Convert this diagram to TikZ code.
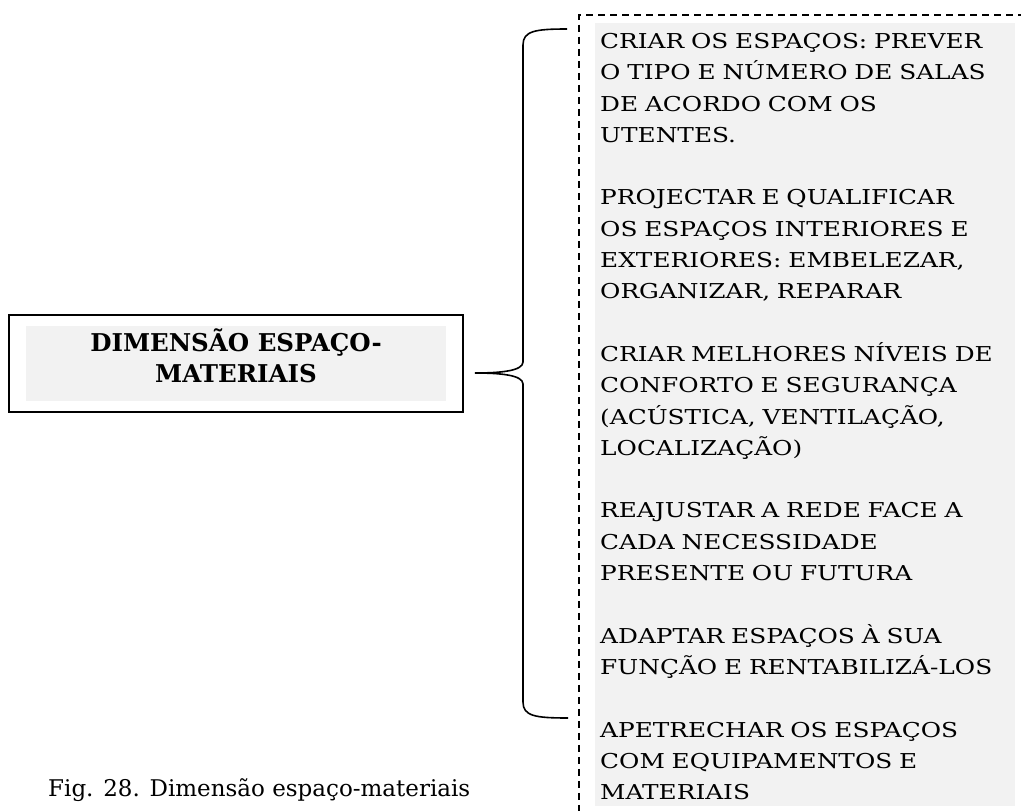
\documentclass[tikz,border=0pt]{standalone}
\usepackage{fontspec}
\setmainfont{DejaVu Serif}
\newfontfamily\wideserif{DejaVu Serif}[FakeStretch=1.21]
\usetikzlibrary{positioning}

\definecolor{boxgray}{HTML}{F2F2F2}
\tikzset{
  framebox/.style={draw, line width=1.6pt, minimum width=454pt, minimum height=97pt},
  titlebox/.style={fill=boxgray, minimum width=420pt, minimum height=75pt},
  titletext/.style={inner sep=0pt, align=center, font=\bfseries\fontsize{24.5}{31}\selectfont},
  actbox/.style={fill=boxgray, anchor=north west, minimum width=420pt, minimum height=783pt},
  acttext/.style={anchor=north west, inner sep=0pt, text width=418pt, align=left, font=\wideserif\fontsize{20.5}{31.3}\selectfont},
  dashframe/.style={draw, line width=1.5pt, dash pattern=on 7pt off 5pt, anchor=north west, minimum width=480pt, minimum height=830pt},
  braceline/.style={line width=1.6pt},
}

\begin{document}
\begin{tikzpicture}[x=1pt,y=-1pt]
  \clip (0,0) rectangle (1021,811);
  % left title
  \node[framebox] (dimframe) at (236,363.5) {};
  \node[titlebox] (dim) at (dimframe.center) {};
  \node[titletext] (dimtext) at (236,356) {DIMENSÃO ESPAÇO-\\MATERIAIS};
  % right list
  \node[dashframe] (actsframe) at (578,14) {};
  \node[actbox] (acts) at (595,23) {};
  \node[acttext] (actstext) at (600,33) {CRIAR OS ESPAÇOS: PREVER\\O TIPO E NÚMERO DE SALAS\\DE ACORDO COM OS\\UTENTES.\\[31.3pt]
    PROJECTAR E QUALIFICAR\\OS ESPAÇOS INTERIORES E\\EXTERIORES: EMBELEZAR,\\ORGANIZAR, REPARAR\\[31.3pt]
    CRIAR MELHORES NÍVEIS DE\\CONFORTO E SEGURANÇA\\(ACÚSTICA, VENTILAÇÃO,\\LOCALIZAÇÃO)\\[31.3pt]
    REAJUSTAR A REDE FACE A\\CADA NECESSIDADE\\PRESENTE OU FUTURA\\[31.3pt]
    ADAPTAR ESPAÇOS À SUA\\FUNÇÃO E RENTABILIZÁ-LOS\\[31.3pt]
    APETRECHAR OS ESPAÇOS\\COM EQUIPAMENTOS E\\MATERIAIS};
  % brace
  \coordinate (bracetop) at (567,29);
  \coordinate (bracetip) at (475,373);
  \coordinate (bracebot) at (568,718);
  \draw[braceline] (bracetop) .. controls (535,29) and (523,31) .. (523,45) -- (523,362)
    .. controls (523,371) and (500,373) .. (bracetip)
    .. controls (500,373) and (523,375) .. (523,384) -- (523,702)
    .. controls (523,716) and (535,718) .. (bracebot);
  % caption
  \node[anchor=base west, inner sep=0pt, font=\fontsize{23}{26}\selectfont] (caption) at (48,796) {Fig. 28. Dimensão espaço-materiais};
\end{tikzpicture}
\end{document}
